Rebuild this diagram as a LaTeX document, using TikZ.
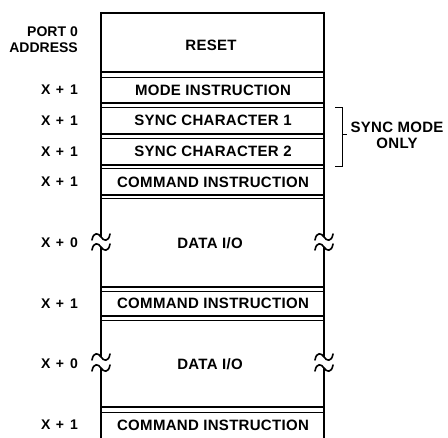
\documentclass[tikz,border=0pt]{standalone}
\usepackage{fontspec}
\setmainfont{Liberation Sans}
\newfontfamily\boxfont[LetterSpace=2]{Liberation Sans}
\newcommand{\addr}[1]{X\hspace{5.5pt}+\hspace{6pt}#1}
\begin{document}
\begin{tikzpicture}[x=1pt,y=-1pt,
  lbl/.style={font=\bfseries\fontsize{14}{16}\selectfont, inner sep=0pt, anchor=east},
  boxtxt/.style={font=\boxfont\bfseries\fontsize{15}{16.5}\selectfont, inner sep=0pt},
  thickline/.style={line width=2pt},
  thinline/.style={line width=0.9pt},
  wall/.style={line width=2.3pt},
  brk/.style={line width=1.6pt, line cap=round}]
\useasboundingbox (0,0) rectangle (448,438);
% box borders
\draw[thickline] (101,13) -- (325,13);
\draw[thickline] (101,72.5) -- (325,72.5);
\draw[thinline] (101,77) -- (325,77);
\draw[thickline] (101,103.5) -- (325,103.5);
\draw[thinline] (101,107.5) -- (325,107.5);
\draw[thickline] (101,134) -- (325,134);
\draw[thinline] (101,138) -- (325,138);
\draw[thickline] (101,165) -- (325,165);
\draw[thinline] (101,168.5) -- (325,168.5);
\draw[thickline] (101,195.5) -- (325,195.5);
\draw[thinline] (101,198.5) -- (325,198.5);
\draw[thickline] (101,287.5) -- (325,287.5);
\draw[thinline] (101,291.5) -- (325,291.5);
\draw[thickline] (101,316.5) -- (325,316.5);
\draw[thinline] (101,320.5) -- (325,320.5);
\draw[thickline] (101,407.5) -- (325,407.5);
\draw[thinline] (101,412) -- (325,412);
% walls with breaks
\foreach \x in {101,324}{
  \draw[wall] (\x,11.9) -- (\x,237);
  \draw[wall] (\x,247) -- (\x,357);
  \draw[wall] (\x,368) -- (\x,438);
  \foreach \y in {237,247,357,368}{
    \draw[brk] (\x-9,\y+3) .. controls (\x-7.5,\y-5.5) and (\x-2.5,\y-4) .. (\x,\y)
      .. controls (\x+2.5,\y+4) and (\x+7.5,\y+5.5) .. (\x+9,\y-3);
  }
}
% box texts
\node[boxtxt] (reset) at (211,45) {RESET};
\node[boxtxt] (mode) at (213,90) {MODE INSTRUCTION};
\node[boxtxt] (sync1) at (213,120.5) {SYNC CHARACTER 1};
\node[boxtxt] (sync2) at (213,151.5) {SYNC CHARACTER 2};
\node[boxtxt] (cmd1) at (213,182) {COMMAND INSTRUCTION};
\node[boxtxt] (data1) at (210,243) {DATA I/O};
\node[boxtxt] (cmd2) at (213,303.5) {COMMAND INSTRUCTION};
\node[boxtxt] (data2) at (210,364) {DATA I/O};
\node[boxtxt] (cmd3) at (213,425) {COMMAND INSTRUCTION};
% left labels
\node[lbl, align=right] (port) at (78,40) {PORT 0\\ADDRESS};
\node[lbl] (a1) at (78,90) {\addr{1}};
\node[lbl] (a2) at (78,120.5) {\addr{1}};
\node[lbl] (a3) at (78,151.5) {\addr{1}};
\node[lbl] (a4) at (78,182) {\addr{1}};
\node[lbl] (a5) at (78,243) {\addr{0}};
\node[lbl] (a6) at (78,303.5) {\addr{1}};
\node[lbl] (a7) at (78,364) {\addr{0}};
\node[lbl] (a8) at (78,425) {\addr{1}};
% bracket
\coordinate (bt) at (342,107.5);
\coordinate (bb) at (342,166.5);
\draw[line width=0.9pt] (335,107.5) -- (bt) -- (bb) -- (335,166.5);
\coordinate (bm) at (342,134);
\draw[line width=0.9pt] (bm) -- (347,134);
\node[boxtxt, align=center] (sync) at (397,135.5) {SYNC MODE\\ONLY};
\end{tikzpicture}
\end{document}
